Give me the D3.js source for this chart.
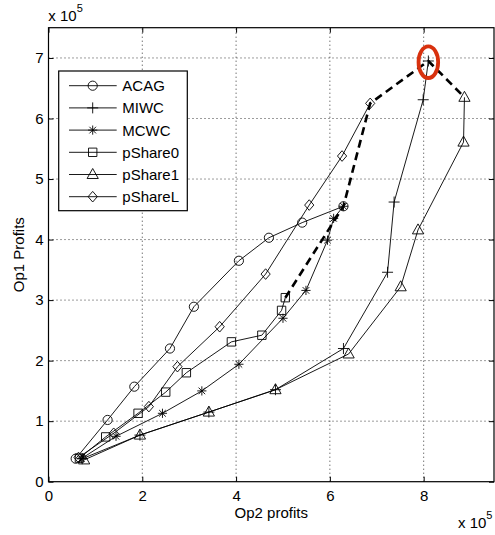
<!DOCTYPE html>
<html>
<head>
<meta charset="utf-8">
<script src="https://cdn.jsdelivr.net/npm/d3@7"></script>
<style>
  html, body { margin: 0; padding: 0; background: #fff; }
  svg { display: block; font-family: "Liberation Sans", Arial, Helvetica, sans-serif; }
</style>
</head>
<body>
<svg id="chart" width="495" height="535"></svg>
<script>
// ---- Data (values in units of 1e5) ----
const seriesNames = ["ACAG", "MIWC", "MCWC", "pShare0", "pShare1", "pShareL"];
const xTicks = [0, 2, 4, 6, 8];
const yTicks = [0, 1, 2, 3, 4, 5, 6, 7];

const acagX = [0.58, 1.26, 1.83, 2.59, 3.10, 4.06, 4.70, 5.41, 6.29];
const acagY = [0.38, 1.02, 1.57, 2.20, 2.89, 3.65, 4.03, 4.28, 4.55];

const miwcX = [0.72, 1.95, 3.42, 4.84, 6.29, 7.23, 7.37, 7.99, 8.10];
const miwcY = [0.38, 0.77, 1.15, 1.52, 2.20, 3.46, 4.62, 6.31, 6.95];

const mcwcX = [0.70, 1.44, 2.43, 3.27, 4.06, 5.00, 5.49, 5.95, 6.08, 6.29];
const mcwcY = [0.38, 0.75, 1.13, 1.50, 1.94, 2.70, 3.16, 3.99, 4.35, 4.55];

const ps0X = [0.66, 1.22, 1.91, 2.50, 2.94, 3.90, 4.55, 4.97, 5.05];
const ps0Y = [0.39, 0.74, 1.13, 1.48, 1.80, 2.31, 2.42, 2.83, 3.04];

const ps1X = [0.76, 1.95, 3.42, 4.84, 6.40, 7.51, 7.88, 8.85, 8.87];
const ps1Y = [0.36, 0.77, 1.15, 1.52, 2.11, 3.22, 4.16, 5.61, 6.35];

const psLX = [0.64, 1.39, 2.14, 2.75, 3.65, 4.63, 5.56, 6.26, 6.86];
const psLY = [0.40, 0.80, 1.24, 1.90, 2.56, 3.43, 4.57, 5.38, 6.25];

// thick dashed frontier
const frontX = [5.05, 6.29, 6.86, 8.10, 8.87];
const frontY = [3.04, 4.55, 6.25, 6.95, 6.35];

// highlighted point (MIWC maximum)
const highlightX = [8.10];
const highlightY = [6.93];

const xLabel = "Op2 profits";
const yLabel = "Op1 Profits";

// ---- Layout ----
const svg = d3.select("#chart");
const L = 48.5, R = 494, T = 27.7, B = 481.7;
const x = d3.scaleLinear().domain([0, 9.5]).range([L, R]);
const y = d3.scaleLinear().domain([0, 7.5]).range([B, T]);
const FS = 15;

// grid
const grid = svg.append("g").attr("stroke", "#222").attr("stroke-width", 0.9)
  .attr("stroke-dasharray", "1,3");
xTicks.filter(v => v > 0).forEach(v => {
  grid.append("line").attr("x1", x(v)).attr("x2", x(v)).attr("y1", B).attr("y2", T);
});
yTicks.filter(v => v > 0).forEach(v => {
  grid.append("line").attr("x1", L).attr("x2", R).attr("y1", y(v)).attr("y2", y(v));
});

// axes
const tl = 5;
const gx = svg.append("g").attr("transform", `translate(0,${B})`)
  .call(d3.axisBottom(x).tickValues(xTicks).tickSize(-tl).tickPadding(9).tickFormat(d3.format("d")));
const gy = svg.append("g").attr("transform", `translate(${L},0)`)
  .call(d3.axisLeft(y).tickValues(yTicks).tickSize(-tl).tickPadding(5).tickFormat(d3.format("d")));
const gt = svg.append("g").attr("transform", `translate(0,${T})`)
  .call(d3.axisTop(x).tickValues(xTicks).tickSize(-tl).tickFormat(""));
const gr = svg.append("g").attr("transform", `translate(${R},0)`)
  .call(d3.axisRight(y).tickValues(yTicks).tickSize(-tl).tickFormat(""));
[gx, gy, gt, gr].forEach(g => {
  g.select(".domain").remove();
  g.selectAll("text").attr("font-size", FS).attr("fill", "#000")
    .attr("font-family", '"Liberation Sans", Arial, sans-serif');
  g.selectAll(".tick line").attr("stroke", "#000");
});

// markers
function markerPath(type) {
  const p = d3.path();
  if (type === "circle") { p.moveTo(4.6, 0); p.arc(0, 0, 4.6, 0, 2 * Math.PI); }
  else if (type === "plus") { p.moveTo(-5.5, 0); p.lineTo(5.5, 0); p.moveTo(0, -5.5); p.lineTo(0, 5.5); }
  else if (type === "star") {
    const r = 4.6, d = r * 0.72;
    p.moveTo(-r, 0); p.lineTo(r, 0); p.moveTo(0, -r); p.lineTo(0, r);
    p.moveTo(-d, -d); p.lineTo(d, d); p.moveTo(-d, d); p.lineTo(d, -d);
  }
  else if (type === "square") { p.rect(-4.2, -4.2, 8.4, 8.4); }
  else if (type === "triangle") { p.moveTo(0, -6); p.lineTo(5.6, 4); p.lineTo(-5.6, 4); p.closePath(); }
  else if (type === "diamond") { p.moveTo(0, -5.3); p.lineTo(4.6, 0); p.lineTo(0, 5.3); p.lineTo(-4.6, 0); p.closePath(); }
  return p.toString();
}

const series = [
  { name: seriesNames[0], xs: acagX, ys: acagY, m: "circle" },
  { name: seriesNames[1], xs: miwcX, ys: miwcY, m: "plus" },
  { name: seriesNames[2], xs: mcwcX, ys: mcwcY, m: "star" },
  { name: seriesNames[3], xs: ps0X, ys: ps0Y, m: "square" },
  { name: seriesNames[4], xs: ps1X, ys: ps1Y, m: "triangle" },
  { name: seriesNames[5], xs: psLX, ys: psLY, m: "diamond" }
];

const line = d3.line().x(d => x(d[0])).y(d => y(d[1]));
const plot = svg.append("g");
series.forEach(s => {
  const pts = s.xs.map((v, i) => [v, s.ys[i]]);
  plot.append("path").attr("d", line(pts)).attr("fill", "none")
    .attr("stroke", "#000").attr("stroke-width", 0.9);
  plot.selectAll(null).data(pts).enter().append("path")
    .attr("transform", d => `translate(${x(d[0])},${y(d[1])})`)
    .attr("d", markerPath(s.m)).attr("fill", "none")
    .attr("stroke", "#000").attr("stroke-width", 0.9);
});

// dashed frontier
const fpts = frontX.map((v, i) => [v, frontY[i]]);
svg.append("path").attr("d", line(fpts)).attr("fill", "none")
  .attr("stroke", "#000").attr("stroke-width", 2.6).attr("stroke-dasharray", "8,5");

// highlight ellipse
svg.selectAll(null).data(highlightX.map((v, i) => [v, highlightY[i]])).enter()
  .append("ellipse").attr("cx", d => x(d[0])).attr("cy", d => y(d[1]))
  .attr("rx", 9.8).attr("ry", 15.8).attr("fill", "none")
  .attr("stroke", "#d8310e").attr("stroke-width", 3.8);

// frame
svg.append("rect").attr("x", L).attr("y", T).attr("width", R - L).attr("height", B - T)
  .attr("fill", "none").attr("stroke", "#000").attr("stroke-width", 1.2);

// legend
const lg = svg.append("g");
lg.append("rect").attr("x", 58.7).attr("y", 71).attr("width", 128.6).attr("height", 139.7)
  .attr("fill", "#fff").attr("stroke", "#000").attr("stroke-width", 1.2);
series.forEach((s, i) => {
  const yy = 85.7 + i * 22.2;
  lg.append("line").attr("x1", 69).attr("x2", 116.7).attr("y1", yy).attr("y2", yy)
    .attr("stroke", "#000").attr("stroke-width", 0.9);
  lg.append("path").attr("transform", `translate(92.7,${yy})`).attr("d", markerPath(s.m))
    .attr("fill", "none").attr("stroke", "#000").attr("stroke-width", 0.9);
  lg.append("text").attr("x", 122.3).attr("y", yy + 5.4).attr("font-size", FS)
    .attr("fill", "#000").text(s.name);
});

// axis labels
svg.append("text").attr("x", (L + R) / 2).attr("y", 518).attr("text-anchor", "middle")
  .attr("font-size", FS).text(xLabel);
svg.append("text").attr("transform", `translate(24,${(T + B) / 2}) rotate(-90)`)
  .attr("text-anchor", "middle").attr("font-size", FS).text(yLabel);

// exponent labels
function expLabel(xp, yp) {
  const t = svg.append("text").attr("x", xp).attr("y", yp).attr("font-size", FS);
  t.append("tspan").text("x 10");
  t.append("tspan").attr("dy", -9).attr("font-size", 11).text("5");
}
expLabel(48.3, 20.7);
expLabel(458, 528);
</script>
</body>
</html>
